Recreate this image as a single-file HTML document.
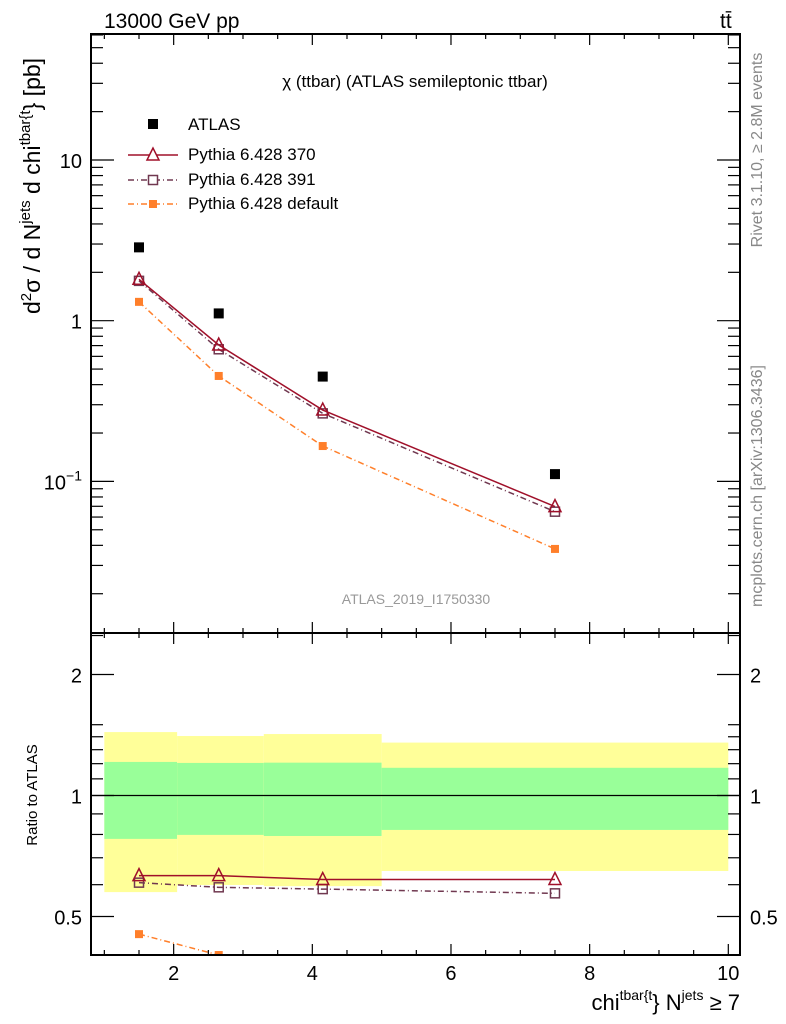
<!DOCTYPE html>
<html><head><meta charset="utf-8"><style>
body{margin:0;background:#fff}
svg{display:block;font-family:"Liberation Sans",sans-serif}
</style></head><body>
<svg id="c" width="786" height="1024" viewBox="0 0 786 1024"></svg>
<script>
const xs=[1.5,2.65,4.15,7.5];
const atlas=[2.86,1.11,0.449,0.111];
const p370=[1.81,0.706,0.278,0.0697];
const p391=[1.77,0.664,0.265,0.0648];
const pdef=[1.31,0.453,0.166,0.038];
const r370=[0.632,0.632,0.618,0.618];
const r391=[0.607,0.591,0.585,0.571];
const rdef=[0.452,0.401,0.36,0.3];
const binEdges=[1,2.05,3.3,5,10];
const yelHi=[1.438,1.406,1.422,1.354];
const yelLo=[0.575,0.599,0.595,0.649];
const grnHi=[1.212,1.205,1.207,1.172];
const grnLo=[0.78,0.798,0.793,0.821];
const xTicks=[2,4,6,8,10];
const mainTicks=[0.1,1,10];
const ratioTicks=[0.5,1,2];
const ratioTickLabels=["0.5","1","2"];

const NS="http://www.w3.org/2000/svg";
const svg=document.getElementById('c');
function mk(t,a,p){const e=document.createElementNS(NS,t);for(const k in a)e.setAttribute(k,a[k]);(p||svg).appendChild(e);return e;}
const L=91,R=740,T=34,M=633,B=955;
const X=v=>139+(v-1.5)*69.33;
const YM=v=>320.7-Math.log10(v)*160.7;
const YR=v=>795.5-Math.log10(v)*402;

const gb=mk('g',{});


for(let i=0;i<4;i++){
 const x0=X(binEdges[i]),x1=X(binEdges[i+1]);
 const y=mk('rect',{x:x0,y:YR(yelHi[i]),width:x1-x0,height:YR(yelLo[i])-YR(yelHi[i]),fill:'#ffff99'},gb);
 
 
 const g=mk('rect',{x:x0,y:YR(grnHi[i]),width:x1-x0,height:YR(grnLo[i])-YR(grnHi[i]),fill:'#99ff99'},gb);
 
 
}
const one=mk('line',{x1:L,x2:R,y1:YR(1),y2:YR(1),stroke:'#000','stroke-width':1.2});



const defs=mk('defs',{});
const c1=mk('clipPath',{id:'cm'},defs);mk('rect',{x:L,y:T,width:R-L,height:M-T},c1);
const c2=mk('clipPath',{id:'cr'},defs);mk('rect',{x:L,y:M,width:R-L,height:B-M},c2);

function series(vals,Y,clip,color,dash,marker,name){
 const g=mk('g',{'clip-path':'url(#'+clip+')'});
 
 
 if(dash!==null){
  const pts=vals.map((v,i)=>X(xs[i])+','+Y(v)).join(' ');
  mk('polyline',{points:pts,fill:'none',stroke:color,'stroke-width':1.5,'stroke-dasharray':dash},g);
 }
 vals.forEach((v,i)=>{
  const cx=X(xs[i]),cy=Y(v);let m;
  if(marker==='fsq')m=mk('rect',{x:cx-5,y:cy-5,width:10,height:10,fill:color},g);
  else if(marker==='osq')m=mk('rect',{x:cx-4.5,y:cy-4.5,width:9,height:9,fill:'none',stroke:color,'stroke-width':1.5},g);
  else if(marker==='tri')m=mk('polygon',{points:`${cx},${cy-7} ${cx-6},${cy+5} ${cx+6},${cy+5}`,fill:'none',stroke:color,'stroke-width':1.5},g);
  else m=mk('rect',{x:cx-4,y:cy-4,width:8,height:8,fill:color},g);
  
  
 });
}
series(pdef,YM,'cm','#ff7f2a','6,3,1,3','fsm','pythia-default');
series(p391,YM,'cm','#703850','6,3,1,3','osq','pythia-391');
series(p370,YM,'cm','#a0102a','','tri','pythia-370');
series(atlas,YM,'cm','#000',null,'fsq','atlas-data');
series(rdef,YR,'cr','#ff7f2a','6,3,1,3','fsm','ratio-default');
series(r391,YR,'cr','#703850','6,3,1,3','osq','ratio-391');
series(r370,YR,'cr','#a0102a','','tri','ratio-370');

const f1=mk('rect',{x:L,y:T,width:R-L,height:M-T,fill:'none',stroke:'#000','stroke-width':2});

const f2=mk('rect',{x:L,y:M,width:R-L,height:B-M,fill:'none',stroke:'#000','stroke-width':2});


const tk=mk('g',{stroke:'#000','stroke-width':1.2});

for(let v=1;v<=10.01;v+=0.5){
 const x=X(v),maj=Math.abs(v-Math.round(v/2)*2)<0.01,len=maj?11:5;
 [T,M].forEach(y=>mk('line',{x1:x,x2:x,y1:y,y2:y+len},tk));
 [M,B].forEach(y=>mk('line',{x1:x,x2:x,y1:y,y2:y-len},tk));
}
for(let d=-2;d<=1;d++)for(let k=1;k<10;k++){
 const v=k*Math.pow(10,d),y=YM(v);if(y<T||y>M)continue;
 const len=k===1?23:12;
 mk('line',{x1:L,x2:L+len,y1:y,y2:y},tk);mk('line',{x1:R,x2:R-len,y1:y,y2:y},tk);
}
[0.5,0.6,0.7,0.8,0.9,1,1.1,1.2,1.3,1.4,1.5,2,2.5].forEach(v=>{
 const y=YR(v);if(y<M||y>B)return;
 const len=(v===0.5||v===1||v===2)?23:12;
 mk('line',{x1:L,x2:L+len,y1:y,y2:y},tk);mk('line',{x1:R,x2:R-len,y1:y,y2:y},tk);
});

function txt(s,a,name){const t=mk('text',a);t.textContent=s;return t;}
xTicks.forEach(v=>txt(String(v),{x:X(v),y:980,'font-size':20,'text-anchor':'middle'},'x-tick-label'));
mainTicks.forEach(v=>{
 const e=Math.round(Math.log10(v));
 const t=mk('text',{x:82,y:YM(v)+8,'font-size':20,'text-anchor':'end'});
 
 if(e<0)t.innerHTML='10<tspan dy="-9" font-size="14">\u2212'+(-e)+'</tspan>';
 else t.textContent=String(Math.pow(10,e));
});
ratioTicks.forEach((v,i)=>{
 txt(ratioTickLabels[i],{x:82,y:YR(v)+8,'font-size':20,'text-anchor':'end'},'ratio-tick-label');
 txt(ratioTickLabels[i],{x:750,y:YR(v)+8,'font-size':20},'ratio-tick-label-right');
});

txt('13000 GeV pp',{x:104,y:28,'font-size':21},'energy-label');
txt('t\u0074\u0304',{x:720,y:28,'font-size':21},'process-label');
txt('\u03C7 (ttbar) (ATLAS semileptonic ttbar)',{x:415,y:87,'font-size':17,'text-anchor':'middle'},'plot-title');
txt('ATLAS_2019_I1750330',{x:416,y:604,'font-size':14,fill:'#999','text-anchor':'middle'},'analysis-id');

const lg=mk('g',{});
mk('rect',{x:148,y:119,width:10,height:10,fill:'#000'},lg);
txt('ATLAS',{x:188,y:130,'font-size':17},'legend-atlas');
mk('line',{x1:128,x2:178,y1:155,y2:155,stroke:'#a0102a','stroke-width':1.5},lg);
mk('polygon',{points:'153,148 147,160 159,160',fill:'#fff',stroke:'#a0102a','stroke-width':1.5},lg);
txt('Pythia 6.428 370',{x:188,y:160,'font-size':17},'legend-370');
mk('line',{x1:128,x2:178,y1:180,y2:180,stroke:'#703850','stroke-width':1.5,'stroke-dasharray':'6,3,1,3'},lg);
mk('rect',{x:148.5,y:175.5,width:9,height:9,fill:'#fff',stroke:'#703850','stroke-width':1.5},lg);
txt('Pythia 6.428 391',{x:188,y:185,'font-size':17},'legend-391');
mk('line',{x1:128,x2:178,y1:204,y2:204,stroke:'#ff7f2a','stroke-width':1.5,'stroke-dasharray':'6,3,1,3'},lg);
mk('rect',{x:149,y:200,width:8,height:8,fill:'#ff7f2a'},lg);
txt('Pythia 6.428 default',{x:188,y:209,'font-size':17},'legend-default');

const yt=mk('text',{transform:'translate(40,186) rotate(-90)','font-size':23,'text-anchor':'middle'});

yt.innerHTML='d<tspan dy="-9" font-size="15">2</tspan><tspan dy="9">σ / d N</tspan><tspan dy="-10" font-size="15">jets</tspan><tspan dy="10"> d chi</tspan><tspan dy="-10" font-size="15">tbar{t</tspan><tspan dy="10">} [pb]</tspan>';
txt('Ratio to ATLAS',{transform:'translate(37,795) rotate(-90)','font-size':15,'text-anchor':'middle'},'ratio-axis-title');
const xt=mk('text',{x:740,y:1010,'font-size':22,'text-anchor':'end'});

xt.innerHTML='chi<tspan dy="-10" font-size="14">tbar{t</tspan><tspan dy="10">} N</tspan><tspan dy="-10" font-size="14">jets</tspan><tspan dy="10"> ≥ 7</tspan>';
txt('Rivet 3.1.10, \u2265 2.8M events',{transform:'translate(762,150) rotate(-90)','font-size':16,fill:'#888','text-anchor':'middle'},'rivet-label');
txt('mcplots.cern.ch [arXiv:1306.3436]',{transform:'translate(762,486) rotate(-90)','font-size':16,fill:'#888','text-anchor':'middle'},'mcplots-label');
</script>
</body></html>
